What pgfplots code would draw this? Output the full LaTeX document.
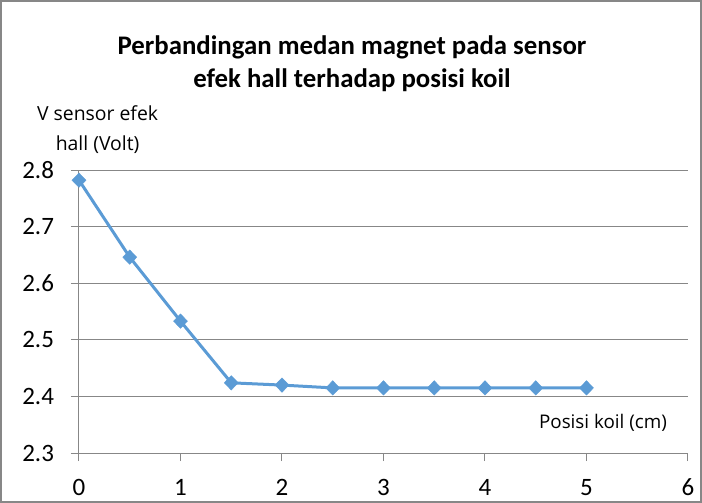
\documentclass[border=0pt]{standalone}
\usepackage{pgfplots}
\pgfplotsset{compat=1.18}
\usepackage{fontspec}
\setmainfont{Carlito}
\newfontfamily\labelfont{Open Sans}
\definecolor{serie}{HTML}{5B9BD5}
\definecolor{gridc}{HTML}{878787}

\begin{document}
\begin{tikzpicture}
\useasboundingbox (0,0) rectangle (351pt,-251.5pt);
\draw[gridc, line width=0.7pt] (0.5pt,-0.5pt) rectangle (350.5pt,-251pt);

\begin{axis}[
    scale only axis,
    width=304.5pt,
    height=141.5pt,
    at={(39.5pt,-226.5pt)},
    anchor=south west,
    xmin=0, xmax=6,
    ymin=2.3, ymax=2.8,
    xtick={0,1,2,3,4,5,6},
    ytick={2.3,2.4,2.5,2.6,2.7,2.8},
    axis x line*=bottom,
    axis y line*=left,
    axis line style={gridc, line width=0.5pt, -},
    tick style={gridc, line width=0.5pt},
    tick align=outside,
    major tick length=4pt,
    ymajorgrids=true,
    grid style={gridc, line width=0.5pt},
    ticklabel style={font=\fontsize{12.5}{14}\selectfont, text=black},
    xticklabel style={yshift=-5.5pt},
    yticklabel style={xshift=-5pt, /pgf/number format/fixed,
        /pgf/number format/precision=1, /pgf/number format/fixed zerofill},
    /pgf/number format/assume math mode=true,
    clip=false,
]
\addplot[
    color=serie,
    line width=1.5pt,
    mark=diamond*,
    mark size=3.6pt,
    mark options={xscale=1.3, fill=serie, draw=serie, line width=0.2pt},
]
coordinates {
    (0,2.782)
    (0.5,2.646)
    (1,2.533)
    (1.5,2.424)
    (2,2.420)
    (2.5,2.415)
    (3,2.415)
    (3.5,2.415)
    (4,2.415)
    (4.5,2.415)
    (5,2.415)
};
\end{axis}

\node[font=\fontsize{13.4}{16.5}\selectfont\bfseries, align=center] at (176pt,-32pt)
    {Perbandingan medan magnet pada sensor\\efek hall terhadap posisi koil};
\node[font=\labelfont\fontsize{9.7}{15}\selectfont, align=center] at (48.8pt,-65pt)
    {V sensor efek\\hall (Volt)};
\node[font=\labelfont\fontsize{9.4}{10}\selectfont] at (301.5pt,-211.5pt)
    {Posisi koil (cm)};
\end{tikzpicture}
\end{document}
